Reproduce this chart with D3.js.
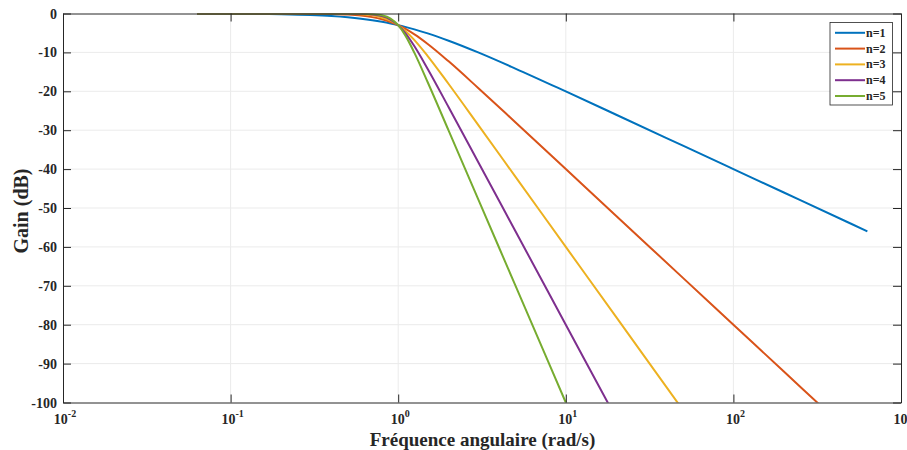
<!DOCTYPE html>
<html><head><meta charset="utf-8">
<script src="https://cdn.jsdelivr.net/npm/d3@7"></script>
<style>body{margin:0;background:#fff}svg{display:block}text{font-family:"Liberation Serif","Times New Roman",serif;font-weight:bold;fill:#262626}</style>
</head><body><svg id="c" width="907" height="450"></svg>
<script>
// Angular frequency samples (rad/s)
const freqs = [0.063, 0.1, 0.2, 0.3, 0.4, 0.5, 0.6, 0.7, 0.8, 0.9, 1.0, 1.1, 1.25, 1.5, 2, 3, 5, 10, 20, 50, 100, 200, 500, 630];
// Gain (dB) for each order
const gainN1 = [-0.017, -0.043, -0.17, -0.374, -0.645, -0.969, -1.335, -1.732, -2.148, -2.577, -3.01, -3.444, -4.087, -5.119, -6.99, -10.0, -14.15, -20.04, -26.03, -33.98, -40.0, -46.02, -53.98, -55.99];
const gainN2 = [0, -0.0004, -0.007, -0.035, -0.11, -0.263, -0.53, -0.934, -1.492, -2.191, -3.01, -3.916, -5.367, -7.826, -12.3, -19.14, -27.96, -40.0, -52.04, -67.96, -80.0, -92.04, -107.96, -111.98];
const gainN3 = [0, 0, -0.0003, -0.003, -0.018, -0.067, -0.198, -0.483, -1.01, -1.851, -3.01, -4.427, -6.826, -10.93, -18.13, -28.63, -41.94, -60.0, -78.06, -101.94, -120.0, -138.06, -161.94, -167.97];
const gainN4 = [0, 0, 0, -0.0003, -0.003, -0.017, -0.072, -0.243, -0.673, -1.554, -3.01, -4.974, -8.43, -14.25, -24.1, -38.17, -55.92, -80.0, -104.08, -135.92, -160.0, -184.08, -215.92, -223.96];
const gainN5 = [0, 0, 0, 0, -0.0005, -0.004, -0.026, -0.121, -0.443, -1.3, -3.01, -5.556, -10.13, -17.68, -30.11, -47.71, -69.9, -100.0, -130.1, -169.9, -200.0, -230.1, -269.9, -279.95];
const seriesNames = ["n=1", "n=2", "n=3", "n=4", "n=5"];
const seriesColors = ["#0072BD", "#D95319", "#EDB120", "#7E2F8E", "#77AC30"];
const xTickExps = [-2, -1, 0, 1, 2, 3];
const yTicks = [0, -10, -20, -30, -40, -50, -60, -70, -80, -90, -100];

const allGains = [gainN1, gainN2, gainN3, gainN4, gainN5];
const svg = d3.select("#c");
const L = 63, R = 901, T = 13.5, B = 402.5;
const x = d3.scaleLog().domain([1e-2, 1e3]).range([L, R]);
const y = d3.scaleLinear().domain([-100, 0]).range([B, T]);
const axisCol = "#262626";

// grid
const g = svg.append("g");
g.selectAll(".vg").data(xTickExps.slice(1, -1)).enter().append("line")
  .attr("x1", d => x(Math.pow(10, d))).attr("x2", d => x(Math.pow(10, d)))
  .attr("y1", T).attr("y2", B).attr("stroke", "#ebebeb").attr("stroke-width", 1);
g.selectAll(".hg").data(yTicks.slice(1, -1)).enter().append("line")
  .attr("y1", d => y(d)).attr("y2", d => y(d))
  .attr("x1", L).attr("x2", R).attr("stroke", "#ebebeb").attr("stroke-width", 1);

// curves (monotone interpolation in log-x screen space)
svg.append("defs").append("clipPath").attr("id", "clip").append("rect")
  .attr("x", L).attr("y", T).attr("width", R - L).attr("height", B - T);
const lineLog = d3.line().x(d => d[0]).y(d => y(d[1])).curve(d3.curveMonotoneX);
const cg = svg.append("g").attr("clip-path", "url(#clip)");
allGains.forEach((gs, i) => {
  const pts = freqs.map((f, j) => [x(f), gs[j]]);
  cg.append("path").attr("d", lineLog(pts)).attr("fill", "none")
    .attr("stroke", seriesColors[i]).attr("stroke-width", 2);
});

// axes (box)
const xAxB = d3.axisBottom(x).tickValues(xTickExps.map(e => Math.pow(10, e))).tickSizeInner(-8).tickSizeOuter(0).tickFormat("");
const xAxT = d3.axisTop(x).tickValues(xTickExps.map(e => Math.pow(10, e))).tickSizeInner(-8).tickSizeOuter(0).tickFormat("");
const yAxL = d3.axisLeft(y).tickValues(yTicks).tickSizeInner(-8).tickSizeOuter(0).tickFormat("");
const yAxR = d3.axisRight(y).tickValues(yTicks).tickSizeInner(-8).tickSizeOuter(0).tickFormat("");
[[xAxB, `translate(0,${B})`], [xAxT, `translate(0,${T})`], [yAxL, `translate(${L},0)`], [yAxR, `translate(${R},0)`]].forEach(([ax, tr]) => {
  const a = svg.append("g").attr("transform", tr).call(ax);
  a.select(".domain").attr("stroke", axisCol).attr("stroke-width", 1);
  a.selectAll(".tick line").attr("stroke", axisCol).attr("stroke-width", 1);
});

// tick labels
svg.selectAll(".yl").data(yTicks).enter().append("text")
  .attr("x", L - 6).attr("y", d => y(d) + 5).attr("text-anchor", "end")
  .attr("font-size", 14).text(d => d);
xTickExps.forEach(e => {
  const t = svg.append("text").attr("x", x(Math.pow(10, e)) + 2).attr("y", 424)
    .attr("text-anchor", "middle").attr("font-size", 14);
  t.append("tspan").text("10");
  t.append("tspan").attr("dy", -7).attr("font-size", 10).text(e);
});

// axis titles
svg.append("text").attr("x", 482.5).attr("y", 445.5).attr("text-anchor", "middle")
  .attr("font-size", 19).text("Fréquence angulaire (rad/s)");
svg.append("text").attr("transform", `translate(28,211) rotate(-90)`)
  .attr("text-anchor", "middle").attr("font-size", 20).text("Gain (dB)");

// legend
const lg = svg.append("g");
lg.append("rect").attr("x", 830).attr("y", 22.5).attr("width", 62.5).attr("height", 82.5)
  .attr("fill", "#fff").attr("stroke", axisCol).attr("stroke-width", 0.8);
seriesNames.forEach((n, i) => {
  const yy = 32.8 + i * 15.8;
  lg.append("line").attr("x1", 835).attr("x2", 865).attr("y1", yy).attr("y2", yy)
    .attr("stroke", seriesColors[i]).attr("stroke-width", 2);
  lg.append("text").attr("x", 866).attr("y", yy + 4).attr("font-size", 12).text(n);
});
</script></body></html>
